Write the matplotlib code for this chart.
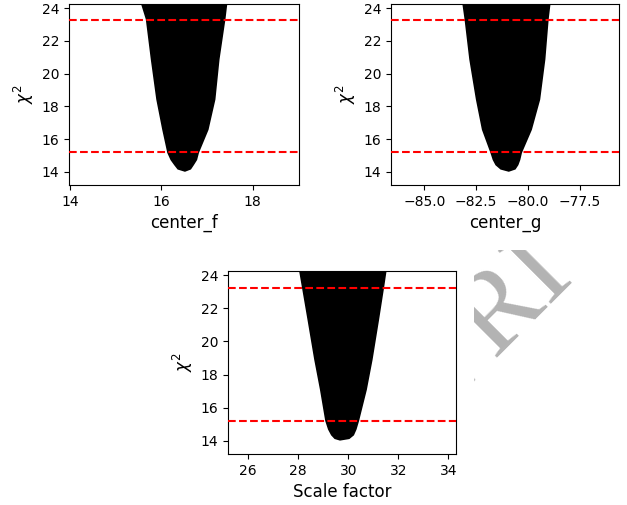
import numpy as np
import matplotlib
matplotlib.use('Agg')
import matplotlib.pyplot as plt

# chi^2 envelope of the scanned points (level, left edge, right edge)
chi2_f = [24.5, 23.33, 20.87, 18.42, 16.58, 15.17, 14.74, 14.43, 14.18, 14.05]
left_f = [15.55, 15.68, 15.79, 15.91, 16.04, 16.15, 16.22, 16.30, 16.37, 16.52]
right_f = [17.44, 17.39, 17.26, 17.17, 17.02, 16.81, 16.77, 16.70, 16.64, 16.52]

chi2_g = [24.5, 23.33, 20.87, 18.42, 16.58, 15.17, 14.74, 14.43, 14.18, 14.05]
left_g = [-83.15, -83.02, -82.79, -82.47, -82.18, -81.77, -81.66, -81.53, -81.30, -80.92]
right_g = [-78.92, -79.03, -79.19, -79.44, -79.84, -80.32, -80.40, -80.49, -80.62, -80.92]

chi2_s = [24.5, 23.27, 21.33, 18.91, 17.09, 15.21, 14.70, 14.36, 14.15, 14.06]
left_s = [28.04, 28.18, 28.40, 28.67, 28.90, 29.11, 29.22, 29.34, 29.47, 29.67]
right_s = [31.52, 31.40, 31.20, 30.94, 30.71, 30.40, 30.30, 30.20, 30.03, 29.67]

# horizontal reference levels
levels = [15.2, 23.25]

panels = [
    ('center_f', chi2_f, left_f, right_f, (13.98, 19.02), [14, 16, 18]),
    ('center_g', chi2_g, left_g, right_g, (-86.6, -75.6), [-85, -82.5, -80, -77.5]),
    ('Scale factor', chi2_s, left_s, right_s, (25.2, 34.3), [26, 28, 30, 32, 34]),
]

fig = plt.figure(figsize=(6.27, 5.05), dpi=100)

# grey preprint watermark peeking out at the right (only the visible fragment)
fig.text(0.716, 0.204, 'PRI', fontsize=82, family='Liberation Serif',
         color='#b3b3b3', rotation=45, rotation_mode='anchor',
         ha='left', va='baseline', zorder=0)
# white masks standing in for the page images that hide the rest of it
fig.patches.append(plt.Rectangle((0, 0.505), 1, 0.5, transform=fig.transFigure,
                                 facecolor='white', edgecolor='none', zorder=0.5))
fig.patches.append(plt.Rectangle((0, 0), 0.756, 1, transform=fig.transFigure,
                                 facecolor='white', edgecolor='none', zorder=0.5))
fig.patches.append(plt.Rectangle((0, 0), 1, 0.218, transform=fig.transFigure,
                                 facecolor='white', edgecolor='none', zorder=0.5))

rects = [
    [0.110, 0.634, 0.367, 0.358],
    [0.624, 0.634, 0.363, 0.358],
    [0.364, 0.101, 0.363, 0.362],
]

for rect, (name, chi2, lft, rgt, xlim, xt) in zip(rects, panels):
    ax = fig.add_axes(rect)
    ax.set_zorder(1)
    xs = np.r_[lft, rgt[::-1]]
    ys = np.r_[chi2, chi2[::-1]]
    ax.fill(xs, ys, color='k', lw=1.2, zorder=2)
    for lv in levels:
        ax.axhline(lv, color='r', ls='--', lw=1.5, zorder=3)
    ax.set_xlim(*xlim)
    ax.set_ylim(13.2, 24.25)
    ax.set_xticks(xt)
    ax.set_yticks([14, 16, 18, 20, 22, 24])
    ax.tick_params(labelsize=10)
    ax.set_xlabel(name, fontsize=12)
    ax.set_ylabel(r'$\chi^2$', fontsize=12)

fig.savefig('out.png', dpi=100)
